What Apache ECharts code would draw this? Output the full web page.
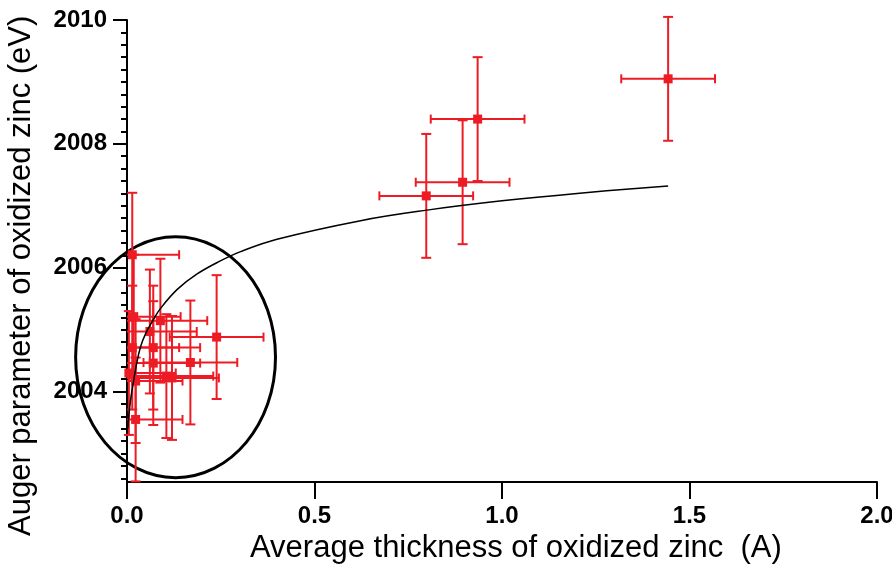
<!DOCTYPE html>
<html>
<head>
<meta charset="UTF-8">
<title>Auger parameter vs oxidized zinc thickness</title>
<script src="https://cdn.jsdelivr.net/npm/echarts@6.0.0/dist/echarts.min.js"></script>
<style>
  html, body { margin: 0; padding: 0; background: #fff; }
  #main { width: 892px; height: 571px; }
</style>
</head>
<body>
<div id="main"></div>
<script>
// measured points (thickness in A, Auger parameter in eV)
var thickness = [0.014, 0.018, 0.089, 0.061, 0.239, 0.014, 0.07, 0.07, 0.169, 0.005, 0.023, 0.105, 0.12, 0.023, 0.798, 0.895, 0.935, 1.443];
var auger = [2006.21, 2005.21, 2005.145, 2004.97, 2004.88, 2004.71, 2004.71, 2004.46, 2004.47, 2004.30, 2004.17, 2004.25, 2004.22, 2003.55, 2007.16, 2007.38, 2008.40, 2009.05];
var thicknessErr = [0.125, 0.125, 0.125, 0.125, 0.125, 0.125, 0.125, 0.125, 0.125, 0.125, 0.125, 0.125, 0.125, 0.125, 0.125, 0.125, 0.125, 0.125];
var augerErr = [1, 1, 1, 1, 1, 1, 1, 1, 1, 1, 1, 1, 1, 1, 1, 1, 1, 1];

// fitted curve
var fitX = [0.002, 0.006, 0.011, 0.017, 0.025, 0.036, 0.05, 0.07, 0.089, 0.134, 0.187, 0.249, 0.303, 0.4, 0.623, 0.8, 1.0, 1.2, 1.443];
var fitY = [2003.40, 2003.68, 2003.93, 2004.15, 2004.43, 2004.72, 2004.94, 2005.16, 2005.34, 2005.65, 2005.90, 2006.11, 2006.26, 2006.46, 2006.76, 2006.93, 2007.08, 2007.20, 2007.32];

// circled group: centre and half axes in data units
var ellipseCenter = [0.1295, 2004.555];
var ellipseRadius = [0.2665, 1.945];

var yMajorTicks = [2004, 2006, 2008, 2010];
var xTickLabels = ['0.0', '0.5', '1.0', '1.5', '2.0'];

var yMin = 2002.54, yMax = 2010;
var yMinorTicks = [];
for (var t = 2002.6; t <= yMax + 1e-6; t += 0.2) yMinorTicks.push(Math.round(t * 10) / 10);

var red = '#ed1c24';
var font = 'Liberation Sans, Arial, sans-serif';

var points = thickness.map(function (x, i) { return [x, auger[i]]; });
var errData = thickness.map(function (x, i) { return [x, auger[i], thicknessErr[i], augerErr[i]]; });
var fitData = fitX.map(function (x, i) { return [x, fitY[i]]; });

var chart = echarts.init(document.getElementById('main'));

chart.setOption({
  animation: false,
  grid: { left: 127, top: 20, right: 15, bottom: 89, containLabel: false, outerBoundsMode: 'none' },
  xAxis: {
    type: 'value', min: 0, max: 2, interval: 0.5,
    splitLine: { show: false },
    axisLine: { lineStyle: { color: '#000', width: 2 } },
    axisTick: { length: 17, lineStyle: { color: '#000', width: 2 } },
    axisLabel: {
      margin: 22, color: '#000', fontSize: 24, fontWeight: 'bold', fontFamily: font,
      formatter: function (v) { return xTickLabels[Math.round(v / 0.5)]; }
    }
  },
  yAxis: [{
    type: 'value', min: yMin, max: yMax,
    splitLine: { show: false },
    axisLine: { lineStyle: { color: '#000', width: 2 } },
    axisTick: { customValues: yMajorTicks, length: 14, lineStyle: { color: '#000', width: 2 } },
    axisLabel: {
      customValues: yMajorTicks, margin: 20, color: '#000', fontSize: 24, fontWeight: 'bold', fontFamily: font,
      formatter: function (v) { return String(v); }
    }
  }, {
    type: 'value', min: yMin, max: yMax, position: 'left',
    splitLine: { show: false },
    axisLine: { show: false },
    axisTick: { customValues: yMinorTicks, length: 6, lineStyle: { color: '#000', width: 2 } },
    axisLabel: { show: false }
  }],
  graphic: [{
    type: 'text', left: 250, top: 533,
    style: { text: 'Average thickness of oxidized zinc  (A)', font: '31px ' + font, fill: '#000' }
  }, {
    type: 'text', x: 6, y: 536, rotation: Math.PI / 2,
    style: { text: 'Auger parameter of oxidized zinc (eV)', font: '31px ' + font, fill: '#000' }
  }],
  series: [{
    type: 'custom',
    clip: false,
    silent: true,
    data: [[ellipseCenter[0], ellipseCenter[1], ellipseRadius[0], ellipseRadius[1]]],
    renderItem: function (params, api) {
      var c = api.coord([api.value(0), api.value(1)]);
      var s = api.size([api.value(2), api.value(3)]);
      return {
        type: 'ellipse',
        shape: { cx: c[0], cy: c[1], rx: s[0], ry: s[1] },
        style: { fill: 'none', stroke: '#000', lineWidth: 3 }
      };
    }
  }, {
    type: 'line',
    data: fitData,
    smooth: 0.4,
    showSymbol: false,
    lineStyle: { color: '#000', width: 1.5 }
  }, {
    type: 'custom',
    clip: false,
    data: errData,
    renderItem: function (params, api) {
      var x = api.value(0), y = api.value(1), ex = api.value(2), ey = api.value(3);
      var cs = params.coordSys;
      var c = api.coord([x, y]);
      var l = api.coord([x - ex, y]), r = api.coord([x + ex, y]);
      var tp = api.coord([x, y + ey]), b = api.coord([x, y - ey]);
      var left = Math.max(l[0], cs.x);
      var bottom = Math.min(b[1], cs.y + cs.height);
      var st = { stroke: red, lineWidth: 2 };
      var kids = [
        { type: 'line', shape: { x1: left, y1: c[1], x2: r[0], y2: c[1] }, style: st },
        { type: 'line', shape: { x1: c[0], y1: tp[1], x2: c[0], y2: bottom }, style: st },
        { type: 'line', shape: { x1: r[0], y1: c[1] - 4.5, x2: r[0], y2: c[1] + 4.5 }, style: st },
        { type: 'line', shape: { x1: c[0] - 5, y1: tp[1], x2: c[0] + 5, y2: tp[1] }, style: st }
      ];
      if (l[0] >= cs.x) kids.push({ type: 'line', shape: { x1: l[0], y1: c[1] - 4.5, x2: l[0], y2: c[1] + 4.5 }, style: st });
      if (b[1] <= cs.y + cs.height) kids.push({ type: 'line', shape: { x1: c[0] - 5, y1: b[1], x2: c[0] + 5, y2: b[1] }, style: st });
      return { type: 'group', children: kids };
    }
  }, {
    type: 'scatter',
    data: points,
    symbol: 'rect',
    symbolSize: 9,
    itemStyle: { color: red, opacity: 1 }
  }]
});
</script>
</body>
</html>
